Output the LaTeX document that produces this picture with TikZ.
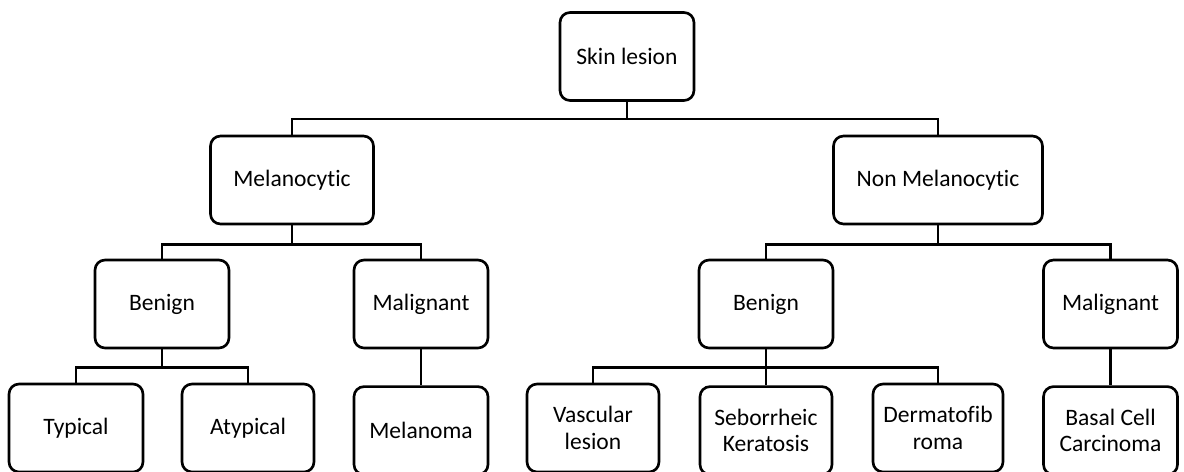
\documentclass[tikz,border=0pt]{standalone}
\usepackage{fontspec}
\setmainfont{Carlito}[Ligatures=NoCommon]
\usetikzlibrary{positioning}

\begin{document}
\begin{tikzpicture}[x=0.02cm,y=-0.02cm,
 every node/.style={font=\fontsize{13.4}{15}\selectfont,align=center},
 cls/.style={rectangle,rounded corners=0.2cm,draw,line width=1.5pt,fill=white,minimum width=2.68cm,minimum height=1.76cm,inner sep=2pt},
 link/.style={line width=1.4pt}]
\useasboundingbox (0,0) rectangle (1184,471);
\node[cls] (skin) at (627,56.5) {Skin lesion};
\node[cls,minimum width=3.26cm] (mel) at (292,180) {Melanocytic};
\node[cls,minimum width=4.18cm] (nonmel) at (938,180) {Non Melanocytic};
\node[cls] (benA) at (162,304) {Benign};
\node[cls] (malA) at (421,304) {Malignant};
\node[cls] (benB) at (766,304) {Benign};
\node[cls] (malB) at (1110.5,304) {Malignant};
\node[cls] (typ) at (76,428) {Typical};
\node[cls,minimum width=2.64cm] (atyp) at (248,428) {Atypical};
\node[cls,below=0.72cm of malA] (melan) {Melanoma};
\node[cls,minimum width=2.64cm] (vasc) at (593,428) {Vascular\\lesion};
\node[cls,minimum width=2.64cm,below=0.72cm of benB] (sebo) {Seborrheic\\Keratosis};
\node[cls,minimum width=2.6cm] (derm) at (938,428) {Dermatofib\\roma};
\node[cls,below=0.72cm of malB] (basal) {Basal Cell\\Carcinoma};
\draw[link] (skin.south) -- ++(0,17) -| (mel.north);
\draw[link] (skin.south) -- ++(0,17) -| (nonmel.north);
\draw[link] (mel.south) -- ++(0,19) -| (benA.north);
\draw[link] (mel.south) -- ++(0,19) -| (malA.north);
\draw[link] (nonmel.south) -- ++(0,19) -| (benB.north);
\draw[link] (nonmel.south) -- ++(0,19) -| (malB.north);
\draw[link] (benA.south) -- ++(0,18) -| (typ.north);
\draw[link] (benA.south) -- ++(0,18) -| (atyp.north);
\draw[link] (malA) -- (melan);
\draw[link] (benB.south) -- ++(0,18) -| (vasc.north);
\draw[link] (benB) -- (sebo);
\draw[link] (benB.south) -- ++(0,18) -| (derm.north);
\draw[link] (malB) -- (basal);
\end{tikzpicture}
\end{document}
